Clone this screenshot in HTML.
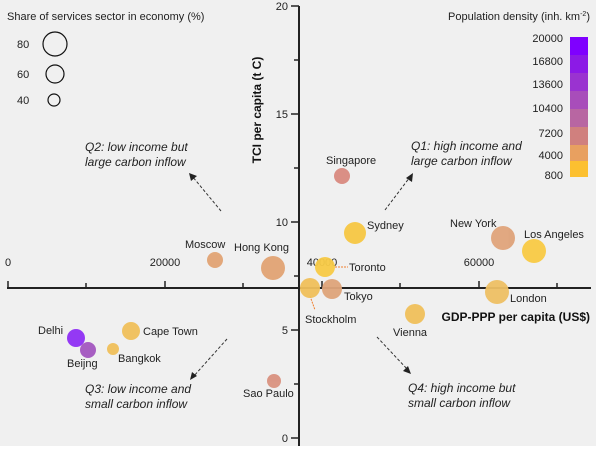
<!DOCTYPE html><html><head><style>body{margin:0;background:#fff}svg{display:block;font-family:"Liberation Sans",sans-serif}</style></head><body>
<svg width="602" height="449" viewBox="0 0 602 449">
<rect x="0" y="0" width="596" height="446" fill="#f0f0f0"/>
<g stroke="#222" stroke-width="2" fill="none">
<line x1="7" y1="288" x2="591" y2="288"/>
<line x1="299" y1="6" x2="299" y2="446"/>
</g>
<g stroke="#222" stroke-width="1.5">
<line x1="8" y1="288" x2="8" y2="281"/><line x1="86" y1="288" x2="86" y2="283"/><line x1="165" y1="288" x2="165" y2="281"/><line x1="243" y1="288" x2="243" y2="283"/><line x1="322" y1="288" x2="322" y2="281"/><line x1="400" y1="288" x2="400" y2="283"/><line x1="479" y1="288" x2="479" y2="281"/><line x1="557" y1="288" x2="557" y2="283"/>
<line x1="291" y1="6" x2="299" y2="6"/><line x1="291" y1="114" x2="299" y2="114"/><line x1="291" y1="222" x2="299" y2="222"/><line x1="291" y1="330" x2="299" y2="330"/><line x1="291" y1="438" x2="299" y2="438"/><line x1="294" y1="60" x2="299" y2="60"/><line x1="294" y1="168" x2="299" y2="168"/><line x1="294" y1="276" x2="299" y2="276"/><line x1="294" y1="384" x2="299" y2="384"/>
</g>
<g font-size="11" fill="#222">
<text x="8" y="266" text-anchor="middle">0</text><text x="165" y="266" text-anchor="middle">20000</text><text x="322" y="266" text-anchor="middle">40000</text><text x="479" y="266" text-anchor="middle">60000</text>
<text x="288" y="10" text-anchor="end">20</text><text x="288" y="118" text-anchor="end">15</text><text x="288" y="226" text-anchor="end">10</text><text x="288" y="334" text-anchor="end">5</text><text x="288" y="442" text-anchor="end">0</text>
</g>
<text x="0" y="0" transform="translate(261,110) rotate(-90)" text-anchor="middle" font-size="12" font-weight="bold" fill="#111">TCI per capita (t C)</text>
<text x="590" y="321" text-anchor="end" font-size="12" font-weight="bold" fill="#111">GDP-PPP per capita (US$)</text>
<text x="7" y="20" font-size="11" fill="#222">Share of services sector in economy (%)</text>
<g fill="none" stroke="#111" stroke-width="1.2"><circle cx="55" cy="44" r="12"/><circle cx="55" cy="74" r="9"/><circle cx="54" cy="100" r="6"/></g>
<g font-size="11" fill="#222"><text x="17" y="48">80</text><text x="17" y="78">60</text><text x="17" y="104">40</text></g>
<text x="590" y="20" text-anchor="end" font-size="11" fill="#222">Population density (inh. km<tspan dy="-4" font-size="7">-2</tspan><tspan dy="4">)</tspan></text>
<rect x="570" y="37" width="18" height="18" fill="#7f00ff"/><rect x="570" y="55" width="18" height="18" fill="#8c1ae6"/><rect x="570" y="73" width="18" height="18" fill="#9a33d0"/><rect x="570" y="91" width="18" height="18" fill="#a84dba"/><rect x="570" y="109" width="18" height="18" fill="#b866a2"/><rect x="570" y="127" width="18" height="18" fill="#d0807e"/><rect x="570" y="145" width="18" height="16" fill="#e8a060"/><rect x="570" y="161" width="18" height="16" fill="#fcc030"/>
<g font-size="11" fill="#222" text-anchor="end"><text x="563" y="42">20000</text><text x="563" y="65">16800</text><text x="563" y="88">13600</text><text x="563" y="112">10400</text><text x="563" y="137">7200</text><text x="563" y="159">4000</text><text x="563" y="179">800</text></g>
<g font-size="12" font-style="italic" fill="#222">
<text x="85" y="151">Q2: low income but</text><text x="85" y="166">large carbon inflow</text>
<text x="411" y="150">Q1: high income and</text><text x="411" y="165">large carbon inflow</text>
<text x="85" y="393">Q3: low income and</text><text x="85" y="408">small carbon inflow</text>
<text x="408" y="392">Q4: high income but</text><text x="408" y="407">small carbon inflow</text>
</g>
<g stroke="#333" stroke-dasharray="3,2" fill="none"><line x1="221" y1="211" x2="192" y2="176"/><line x1="385" y1="210" x2="410" y2="177"/><line x1="227" y1="339" x2="193" y2="377"/><line x1="377" y1="337" x2="408" y2="370"/></g>
<g fill="#222"><polygon points="189,173 197,176 191,181"/><polygon points="413,173 412,182 406,178"/><polygon points="190,380 192,372 197,376"/><polygon points="411,374 403,371 408,366"/></g>
<line x1="335" y1="267" x2="348" y2="267" stroke="#f08030" stroke-dasharray="2,1"/>
<line x1="310" y1="296" x2="315" y2="310" stroke="#f08030" stroke-dasharray="2,1"/>
<g opacity="0.95">
<circle cx="342" cy="176" r="8" fill="#d98a80"/><circle cx="355" cy="233" r="11" fill="#f7c744"/><circle cx="503" cy="238" r="12" fill="#dfa37a"/><circle cx="534" cy="251" r="12" fill="#f9cb45"/><circle cx="215" cy="260" r="8" fill="#e2a474"/><circle cx="273" cy="268" r="12" fill="#e2a474"/><circle cx="325" cy="267" r="10" fill="#f8cb46"/><circle cx="310" cy="288" r="10" fill="#f0c05b"/><circle cx="332" cy="289" r="10" fill="#dfa57b"/><circle cx="497" cy="292" r="12" fill="#eec064"/><circle cx="415" cy="314" r="10" fill="#f0c05b"/><circle cx="76" cy="338" r="9" fill="#9030f5"/><circle cx="88" cy="350" r="8" fill="#a457c0"/><circle cx="131" cy="331" r="9" fill="#f0c05b"/><circle cx="113" cy="349" r="6" fill="#f0c05b"/><circle cx="274" cy="381" r="7" fill="#d99280"/>
</g>
<g font-size="11" fill="#222">
<text x="326" y="164">Singapore</text><text x="367" y="229">Sydney</text><text x="450" y="227">New York</text><text x="524" y="238">Los Angeles</text><text x="185" y="248">Moscow</text><text x="234" y="251">Hong Kong</text><text x="349" y="271">Toronto</text><text x="344" y="300">Tokyo</text><text x="510" y="302">London</text><text x="305" y="323">Stockholm</text><text x="393" y="336">Vienna</text><text x="38" y="334">Delhi</text><text x="67" y="367">Beijng</text><text x="143" y="335">Cape Town</text><text x="118" y="362">Bangkok</text><text x="243" y="397">Sao Paulo</text>
</g>
</svg>
</body></html>
